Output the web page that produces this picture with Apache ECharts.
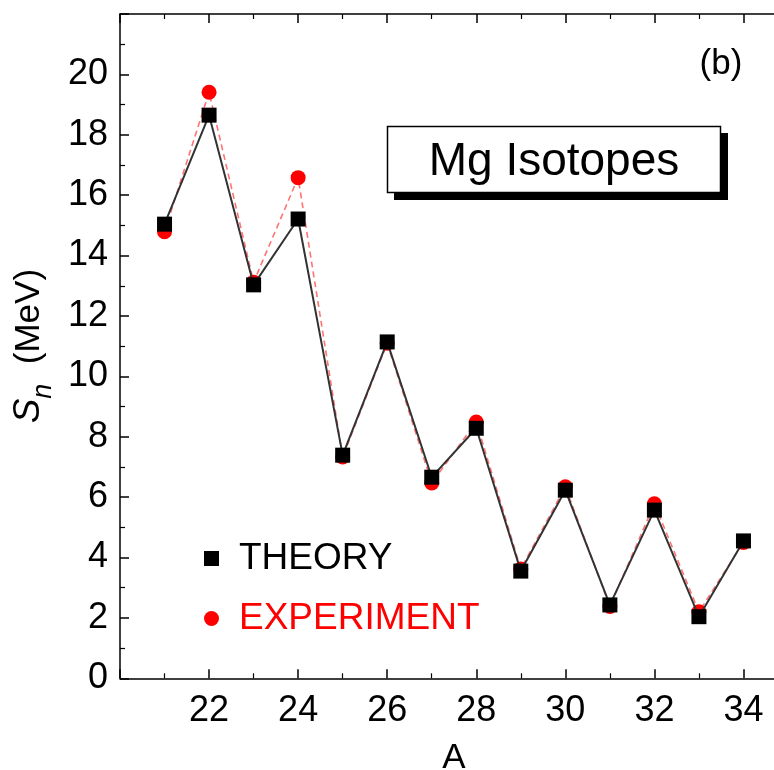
<!DOCTYPE html>
<html>
<head>
<meta charset="utf-8">
<script src="https://cdn.jsdelivr.net/npm/echarts@6/dist/echarts.min.js"></script>
<style>
  html, body { margin: 0; padding: 0; background: #fff; }
  #chart { width: 774px; height: 770px; }
</style>
</head>
<body>
<div id="chart"></div>
<script>
// Mass numbers of the Mg isotopes
const massNumbers = [21, 22, 23, 24, 25, 26, 27, 28, 29, 30, 31, 32, 33, 34];
// One-neutron separation energies (MeV)
const theorySn = [15.04, 18.65, 13.03, 15.21, 7.39, 11.14, 6.66, 8.28, 3.55, 6.23, 2.43, 5.57, 2.04, 4.55];
const experimentSn = [14.79, 19.41, 13.12, 16.58, 7.33, 11.10, 6.47, 8.49, 3.62, 6.34, 2.38, 5.78, 2.20, 4.50];
// Axis ranges and tick steps
const xRange = [20, 35];
const yRange = [0, 22];
const xStep = 2;
const yStep = 2;

const FONT = 'Liberation Sans, Arial, Helvetica, sans-serif';
const chart = echarts.init(document.getElementById('chart'), null, { renderer: 'canvas' });

const pairs = (xs, ys) => xs.map((x, i) => [x, ys[i]]);

const frameLine = { show: true, onZero: false, lineStyle: { color: '#000', width: 1.5 } };
const majorTick = { show: true, inside: true, length: 9, lineStyle: { color: '#000', width: 1.5 } };
const minorTick = { show: true, splitNumber: 2, length: 5, lineStyle: { color: '#000', width: 1.2 } };

chart.setOption({
  backgroundColor: '#fff',
  animation: false,
  grid: { left: 120, top: 14, width: 668, height: 664.3, containLabel: false, outerBoundsMode: 'none' },
  xAxis: [{
    type: 'value', min: xRange[0], max: xRange[1], interval: xStep,
    position: 'bottom',
    name: 'A', nameLocation: 'middle', nameGap: 63,
    nameTextStyle: { fontFamily: FONT, fontSize: 35, color: '#000' },
    axisLine: frameLine, axisTick: majorTick, minorTick: Object.assign({}, minorTick),
    splitLine: { show: false },
    axisLabel: {
      fontFamily: FONT, fontSize: 36, color: '#000', margin: 15,
      formatter: v => (v > xRange[0] && v < xRange[1] && v % xStep === 0) ? String(v) : ''
    }
  }, {
    type: 'value', min: xRange[0], max: xRange[1], interval: xStep,
    position: 'top',
    axisLine: frameLine, axisTick: majorTick, minorTick: Object.assign({}, minorTick),
    splitLine: { show: false }, axisLabel: { show: false }
  }],
  yAxis: [{
    type: 'value', min: yRange[0], max: yRange[1], interval: yStep,
    position: 'left',
    name: '{s|S}{n|n}{u|  (MeV)}', nameLocation: 'middle', nameGap: 60,
    nameTextStyle: {
      fontFamily: FONT, fontSize: 35, color: '#000',
      rich: {
        s: { fontFamily: FONT, fontSize: 37, fontStyle: 'italic', color: '#000', lineHeight: 40 },
        n: { fontFamily: FONT, fontSize: 27, fontStyle: 'italic', color: '#000', verticalAlign: 'bottom', lineHeight: 26, padding: [0, 0, -8, 0] },
        u: { fontFamily: FONT, fontSize: 35, color: '#000', lineHeight: 40 }
      }
    },
    axisLine: frameLine, axisTick: majorTick, minorTick: Object.assign({}, minorTick),
    splitLine: { show: false },
    axisLabel: {
      fontFamily: FONT, fontSize: 36, color: '#000', margin: 12,
      formatter: v => (v < yRange[1] && v % yStep === 0) ? String(v) : ''
    }
  }],
  legend: {
    orient: 'vertical', left: 199, top: 535, itemGap: 23,
    itemWidth: 15, itemHeight: 15,
    textStyle: { fontFamily: FONT, fontSize: 37, padding: [0, 0, 0, 15] },
    data: [
      { name: 'THEORY', icon: 'rect', itemStyle: { color: '#000' }, textStyle: { color: '#000' } },
      { name: 'EXPERIMENT', icon: 'circle', itemStyle: { color: '#ff0000' }, textStyle: { color: '#ff0000' } }
    ]
  },
  graphic: [
    { type: 'rect', shape: { x: 394, y: 133, width: 334, height: 67 }, style: { fill: '#000' }, z: 10 },
    { type: 'rect', shape: { x: 387.5, y: 126.5, width: 333, height: 66 }, style: { fill: '#fff', stroke: '#000', lineWidth: 1.5 }, z: 11 },
    { type: 'text', x: 554, y: 162, style: { text: 'Mg Isotopes', fontFamily: FONT, fontSize: 46, fill: '#000', align: 'center', verticalAlign: 'middle' }, z: 12 },
    { type: 'text', x: 721, y: 64, style: { text: '(b)', fontFamily: FONT, fontSize: 35, fill: '#000', align: 'center', verticalAlign: 'middle' }, z: 12 }
  ],
  series: [{
    name: 'EXPERIMENT', type: 'line', data: pairs(massNumbers, experimentSn),
    symbol: 'circle', symbolSize: 15,
    itemStyle: { color: '#ff0000' },
    lineStyle: { color: 'rgba(255,40,40,0.65)', width: 1.6, type: [6, 4] },
    z: 2
  }, {
    name: 'THEORY', type: 'line', data: pairs(massNumbers, theorySn),
    symbol: 'rect', symbolSize: 15,
    itemStyle: { color: '#000' },
    lineStyle: { color: '#333', width: 2 },
    z: 3
  }]
});
</script>
</body>
</html>
